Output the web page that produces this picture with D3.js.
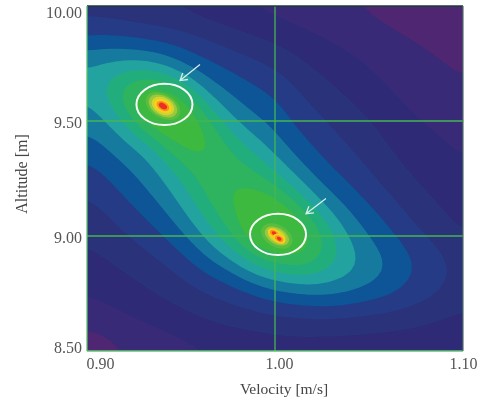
<!DOCTYPE html>
<html>
<head>
<meta charset="utf-8">
<script src="https://cdn.jsdelivr.net/npm/d3@7"></script>
<style>
html, body { margin: 0; padding: 0; background: #ffffff; }
svg { display: block; }
</style>
</head>
<body>
<div id="container"></div>
<script>
var velocityTicks = [0.90, 1.00, 1.10]
var altitudeTicks = [10.00, 9.50, 9.00, 8.50]
var velocityGuides = [1.00]
var altitudeGuides = [9.50, 9.00]

var bandLevels = [1, 2, 3, 4, 5, 6, 7, 8, 9, 10]
var bandColors = ['#392a77', '#2d2a74', '#2b3079', '#283a85', '#0a5496', '#17799e', '#21a39f', '#22ae7c', '#2fb35f', '#3cb93f']
var baseColor = '#4f2771'

// band level, one row per 0.1 m from 10.0 down to 8.5, one column per 0.01 m/s
var levelGrid = [
    3.4, 3.3, 3.1, 2.95, 2.8, 2.6, 2.4, 2.1, 1.9, 1.7, 1.55, 1.4, 1.25, 1.1, 0.95, 0.8, 0.65, 0.5, 0.35, 0.2, 0.1,
    4.45, 4.45, 4.35, 4.2, 4.05, 3.9, 3.6, 3.3, 3.0, 2.7, 2.4, 2.1, 1.87, 1.7, 1.5, 1.25, 1.05, 0.85, 0.7, 0.5, 0.3,
    6.1, 6.35, 6.2, 5.9, 5.64, 5.2, 4.74, 4.35, 3.95, 3.67, 3.38, 3.0, 2.55, 2.2, 2.0, 1.7, 1.45, 1.25, 1.08, 0.85, 0.6,
    7.6, 7.95, 8.4, 8.8, 8.0, 6.7, 5.95, 5.45, 5.05, 4.6, 4.25, 3.7, 3.2, 2.8, 2.5, 2.1, 1.78, 1.54, 1.37, 1.18, 0.97,
    7.05, 8.0, 10.2, 11.5, 12.0, 11.0, 7.75, 6.45, 5.85, 5.4, 5.08, 4.3, 3.78, 3.34, 2.95, 2.6, 2.17, 1.84, 1.65, 1.47, 1.24,
    6.3, 6.88, 7.6, 10.6, 11.8, 11.8, 10.6, 8.15, 6.78, 6.04, 5.65, 4.85, 4.34, 3.85, 3.42, 3.1, 2.58, 2.16, 1.94, 1.76, 1.52,
    5.56, 6.2, 6.66, 7.0, 8.9, 10.4, 10.9, 9.7, 8.5, 7.3, 6.4, 5.45, 4.9, 4.4, 3.87, 3.47, 3.0, 2.54, 2.27, 2.05, 1.8,
    4.68, 5.27, 6.0, 6.45, 7.3, 8.6, 9.6, 9.9, 9.4, 8.7, 7.7, 6.43, 5.6, 4.9, 4.47, 3.85, 3.45, 2.92, 2.6, 2.37, 2.08,
    4.08, 4.55, 5.2, 5.85, 6.55, 7.6, 8.9, 10.1, 10.3, 10.3, 9.3, 8.1, 6.54, 5.76, 5.16, 4.5, 3.88, 3.4, 2.95, 2.68, 2.35,
    3.6, 3.96, 4.5, 5.12, 5.76, 6.7, 7.9, 9.3, 10.0, 11.8, 11.5, 10.3, 8.5, 6.9, 5.93, 5.31, 4.65, 3.9, 3.42, 3.0, 2.62,
    3.16, 3.53, 3.86, 4.32, 4.95, 5.73, 6.76, 8.2, 9.6, 11.5, 12.0, 11.8, 10.3, 8.4, 6.9, 5.95, 5.3, 4.6, 3.95, 3.5, 2.9,
    2.7, 2.98, 3.34, 3.65, 4.0, 4.65, 5.5, 6.33, 7.4, 8.95, 9.6, 10.3, 9.75, 8.5, 7.55, 6.63, 6.1, 5.3, 4.75, 4.2, 3.6,
    2.28, 2.5, 2.8, 3.1, 3.45, 3.75, 4.3, 4.72, 5.3, 6.0, 6.67, 6.95, 7.4, 7.1, 6.9, 6.4, 5.9, 5.2, 4.6, 4.2, 3.5,
    1.8, 2.0, 2.2, 2.53, 2.83, 3.17, 3.43, 3.7, 3.9, 4.2, 4.62, 4.8, 4.93, 5.14, 4.93, 4.65, 4.5, 4.17, 3.9, 3.6, 3.2,
    1.05, 1.35, 1.6, 1.8, 2.0, 2.3, 2.6, 2.9, 3.05, 3.13, 3.2, 3.25, 3.2, 3.1, 3.1, 3.06, 3.0, 2.95, 2.8, 2.6, 2.45,
    0.1, 0.4, 0.9, 1.2, 1.35, 1.55, 1.7, 1.85, 2.0, 2.15, 2.25, 2.3, 2.35, 2.35, 2.35, 2.3, 2.25, 2.2, 2.15, 2.05, 2.0
]
var gridColumns = 21
var gridRows = 16

// peak rings, sizes in data units (m/s half width, m half height)
var peakColors = ['#68bf3f', '#9cc93b', '#d3d52d', '#f9d11a', '#f7941e', '#ed2f24']
var peakOneCenter = [0.9404, 9.565]
var peakOneWidths = [0.0100, 0.0082, 0.0064, 0.0050, 0.0037, 0.0024]
var peakOneHeights = [0.052, 0.043, 0.035, 0.026, 0.019, 0.012]
var peakTwoCenter = [1.0010, 9.000]
var peakTwoWidths = [0.0090, 0.0070, 0.0052]
var peakTwoHeights = [0.048, 0.035, 0.026]
var coreCenters = [[0.9995, 9.012], [1.0022, 8.988]]
var coreWidths = [0.0036, 0.0024, 0.0013]
var coreHeights = [0.019, 0.012, 0.007]

var circleCenters = [[0.9412, 9.572], [1.0016, 9.007]]
var circleWidth = 0.0149
var circleHeight = 0.0895

var arrowTails = [[0.9601, 9.746], [1.0271, 9.163]]
var arrowTips = [[0.9495, 9.676], [1.0165, 9.097]]

var width = 481
var height = 400
var left = 87
var right = 463
var top_ = 6
var bottom = 351

var svgContainer = d3.select('#container').append('svg')
    .attr('width', width)
    .attr('height', height)

var defs = svgContainer.append('defs')
defs.append('clipPath').attr('id', 'plotClip')
    .append('rect')
    .attr('x', left)
    .attr('y', top_)
    .attr('width', right - left)
    .attr('height', bottom - top_)
defs.append('filter').attr('id', 'soft')
    .append('feGaussianBlur')
    .attr('stdDeviation', 0.6)
var textBlur = defs.append('filter').attr('id', 'softText')
textBlur.append('feGaussianBlur').attr('stdDeviation', 0.3)

var xScale = d3.scaleLinear().domain([0.90, 1.10]).range([left, right])
var yScale = d3.scaleLinear().domain([10.00, 8.50]).range([top_, bottom])

// the read grid is coarse, so render it on a finer one and let d3.blur2 round the bands off
var fineStep = 4
var fineColumns = (gridColumns - 1) * fineStep + 1
var fineRows = (gridRows - 1) * fineStep + 1

function fineField(){
    var data = new Float64Array(fineColumns * fineRows)
    for(var j = 0; j < fineRows; j++){
        var r = Math.min(Math.floor(j / fineStep), gridRows - 2)
        var fy = j / fineStep - r
        for(var i = 0; i < fineColumns; i++){
            var c = Math.min(Math.floor(i / fineStep), gridColumns - 2)
            var fx = i / fineStep - c
            var a = levelGrid[r * gridColumns + c]
            var b = levelGrid[r * gridColumns + c + 1]
            var e = levelGrid[(r + 1) * gridColumns + c]
            var f = levelGrid[(r + 1) * gridColumns + c + 1]
            data[j * fineColumns + i] = (a * (1 - fx) + b * fx) * (1 - fy) + (e * (1 - fx) + f * fx) * fy
        }
    }
    d3.blur2({data: data, width: fineColumns, height: fineRows}, 2)
    return data
}

// d3.contours puts grid values on cell centres
var columnToVelocity = d3.scaleLinear().domain([0.5, fineColumns - 0.5]).range([0.90, 1.10])
var rowToAltitude = d3.scaleLinear().domain([0.5, fineRows - 0.5]).range([10.00, 8.50])

var ringLine = d3.line()
    .x(function(p){ return xScale(columnToVelocity(p[0])) })
    .y(function(p){ return yScale(rowToAltitude(p[1])) })
    .curve(d3.curveLinearClosed)

function ringsToPath(contour){
    var d = ''
    contour.coordinates.forEach(function(polygon){
        polygon.forEach(function(ring){
            d += ringLine(ring.slice(0, -1))
        })
    })
    return d
}

var contours = d3.contours()
    .size([fineColumns, fineRows])
    .thresholds(bandLevels)(Array.from(fineField()))

var plot = svgContainer.append('g')
    .attr('clip-path', 'url(#plotClip)')

var field = plot.append('g').attr('filter', 'url(#soft)')

field.append('rect')
    .attr('x', left - 5)
    .attr('y', top_ - 5)
    .attr('width', right - left + 10)
    .attr('height', bottom - top_ + 10)
    .attr('fill', baseColor)

field.selectAll('path.band')
    .data(contours)
    .enter()
    .append('path')
    .attr('class', 'band')
    .attr('d', ringsToPath)
    .attr('fill-rule', 'evenodd')
    .attr('fill', function(d, i){ return bandColors[i] })

// green guide lines, they run under the peaks
var guideColor = '#45b652'
plot.selectAll('line.vguide')
    .data(velocityGuides)
    .enter()
    .append('line')
    .attr('class', 'vguide')
    .attr('x1', xScale)
    .attr('x2', xScale)
    .attr('y1', top_)
    .attr('y2', bottom)
    .attr('stroke', guideColor)
    .attr('stroke-width', 1.3)

plot.selectAll('line.hguide')
    .data(altitudeGuides)
    .enter()
    .append('line')
    .attr('class', 'hguide')
    .attr('x1', left)
    .attr('x2', right)
    .attr('y1', yScale)
    .attr('y2', yScale)
    .attr('stroke', guideColor)
    .attr('stroke-width', 1.3)

var peaks = plot.append('g').attr('filter', 'url(#soft)')

function drawRings(center, widths, heights, colors){
    var cx = xScale(center[0])
    var cy = yScale(center[1])
    widths.forEach(function(w, i){
        peaks.append('ellipse')
            .attr('cx', cx)
            .attr('cy', cy)
            .attr('rx', xScale(0.90 + w) - xScale(0.90))
            .attr('ry', yScale(10.00 - heights[i]) - yScale(10.00))
            .attr('transform', 'rotate(30 ' + cx + ' ' + cy + ')')
            .attr('fill', colors[i])
            .attr('fill-opacity', i === 0 && colors === peakColors ? 0.7 : 1)
    })
}

drawRings(peakOneCenter, peakOneWidths, peakOneHeights, peakColors)
drawRings(peakTwoCenter, peakTwoWidths, peakTwoHeights, peakColors)
coreCenters.forEach(function(c){
    drawRings(c, coreWidths, coreHeights, peakColors.slice(3))
})

// white circles round the two peaks
plot.selectAll('ellipse.mark')
    .data(circleCenters)
    .enter()
    .append('ellipse')
    .attr('class', 'mark')
    .attr('cx', function(d){ return xScale(d[0]) })
    .attr('cy', function(d){ return yScale(d[1]) })
    .attr('rx', xScale(0.90 + circleWidth) - xScale(0.90))
    .attr('ry', yScale(10.00 - circleHeight) - yScale(10.00))
    .attr('fill', 'none')
    .attr('stroke', '#f6fbf4')
    .attr('stroke-width', 2)

// arrows
arrowTails.forEach(function(tail, i){
    var x1 = xScale(tail[0])
    var y1 = yScale(tail[1])
    var x2 = xScale(arrowTips[i][0])
    var y2 = yScale(arrowTips[i][1])
    var angle = Math.atan2(y2 - y1, x2 - x1)
    var headLength = 8
    var spread = 0.55
    var d = 'M' + x1 + ',' + y1 + 'L' + x2 + ',' + y2
    d += 'M' + (x2 - headLength * Math.cos(angle - spread)) + ',' + (y2 - headLength * Math.sin(angle - spread))
    d += 'L' + x2 + ',' + y2
    d += 'L' + (x2 - headLength * Math.cos(angle + spread)) + ',' + (y2 - headLength * Math.sin(angle + spread))
    plot.append('path')
        .attr('d', d)
        .attr('fill', 'none')
        .attr('stroke', '#d6eeea')
        .attr('stroke-width', 1.3)
})

// frame
function frameLine(x1, y1, x2, y2, color, w){
    svgContainer.append('line')
        .attr('x1', x1)
        .attr('y1', y1)
        .attr('x2', x2)
        .attr('y2', y2)
        .attr('stroke', color)
        .attr('stroke-width', w)
}
frameLine(left, top_, right, top_, '#1d3b38', 1.3)
frameLine(left, top_, left, bottom, '#5cbf6c', 1.3)
frameLine(left, bottom, right, bottom, '#63c276', 1.5)
frameLine(right, top_, right, bottom, '#4f6f68', 1.2)

// axes
var textColor = '#555555'
var xLabelNudge = [13, 4, 0]
var yLabelNudge = [6, 1.5, 1, -4]

var xAxis = d3.axisBottom(xScale)
    .tickValues(velocityTicks)
    .tickSize(0)
    .tickPadding(0)
    .tickFormat(d3.format('.2f'))

var yAxis = d3.axisLeft(yScale)
    .tickValues(altitudeTicks)
    .tickSize(0)
    .tickPadding(0)
    .tickFormat(d3.format('.2f'))

var xGroup = svgContainer.append('g')
    .attr('transform', 'translate(0,' + (bottom + 7) + ')')
    .call(xAxis)
xGroup.select('.domain').remove()
xGroup.selectAll('text')
    .attr('dx', function(d, i){ return xLabelNudge[i] })

var yGroup = svgContainer.append('g')
    .attr('transform', 'translate(' + (left - 5) + ',0)')
    .call(yAxis)
yGroup.select('.domain').remove()
yGroup.selectAll('text')
    .attr('dy', function(d, i){ return (0.32 * 16 + yLabelNudge[i]) + 'px' })

svgContainer.selectAll('.tick text')
    .attr('font-family', '"Liberation Serif", serif')
    .attr('font-size', 16)
    .attr('fill', textColor)
    .attr('filter', 'url(#softText)')

svgContainer.append('text')
    .attr('x', 284)
    .attr('y', 394)
    .attr('text-anchor', 'middle')
    .attr('font-family', '"Liberation Serif", serif')
    .attr('font-size', 15.5)
    .attr('fill', '#444444')
    .attr('filter', 'url(#softText)')
    .text('Velocity [m/s]')

svgContainer.append('text')
    .attr('transform', 'translate(27,174) rotate(-90)')
    .attr('text-anchor', 'middle')
    .attr('font-family', '"Liberation Serif", serif')
    .attr('font-size', 16)
    .attr('fill', '#444444')
    .attr('filter', 'url(#softText)')
    .text('Altitude [m]')
</script>
</body>
</html>
